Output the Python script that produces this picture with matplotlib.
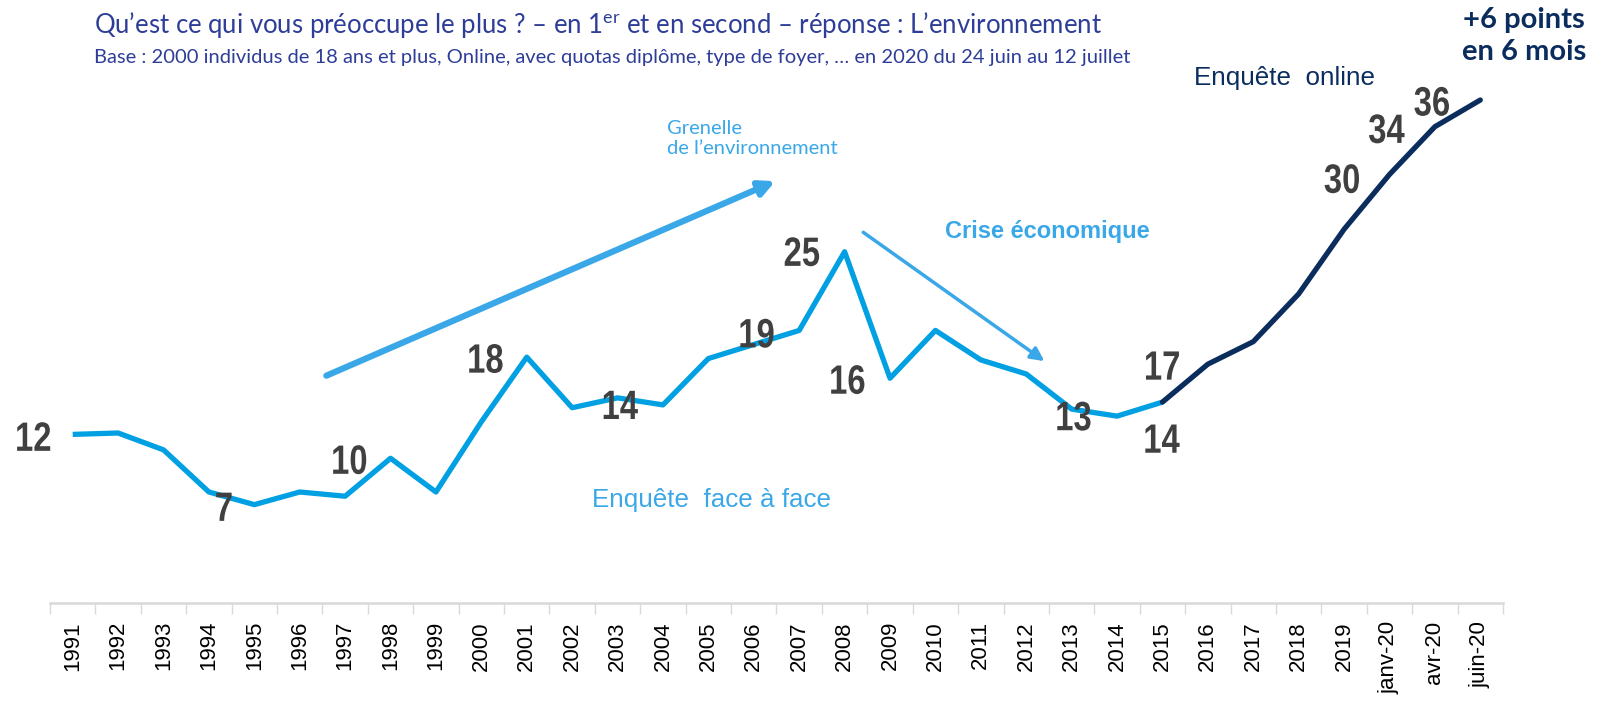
import matplotlib
matplotlib.use("Agg")
import matplotlib.pyplot as plt
from matplotlib.textpath import TextPath
from matplotlib.patches import PathPatch
from matplotlib.font_manager import FontProperties
import matplotlib.transforms as mtransforms

# categories on the x axis
periods = ["1991", "1992", "1993", "1994", "1995", "1996", "1997", "1998", "1999",
           "2000", "2001", "2002", "2003", "2004", "2005", "2006", "2007", "2008",
           "2009", "2010", "2011", "2012", "2013", "2014", "2015", "2016", "2017",
           "2018", "2019", "janv-20", "avr-20", "juin-20"]

# face-to-face survey 1991 -> 2015
face_values = [12, 12.1, 10.9, 7.9, 7.0, 7.9, 7.6, 10.3, 7.9, 12.9, 17.5, 13.9,
               14.6, 14.1, 17.4, 18.4, 19.4, 25, 16.0, 19.4, 17.3, 16.3, 13.8,
               13.3, 14.3]
# online survey 2015 -> juin-20
online_values = [14.3, 17.0, 18.6, 22.0, 26.6, 30.5, 33.9, 35.8]

# printed labels
label_texts = ["12", "7", "10", "18", "14", "19", "25", "16", "13", "17", "14", "30", "34", "36"]

BLUE = "#00A0E3"
ARROW = "#3AA8E8"
NAVY = "#0B2D5E"
GREY = "#404040"
TITLE = "#2E3D98"

plt.rcParams["mathtext.fontset"] = "custom"
plt.rcParams["mathtext.rm"] = "Lato"
plt.rcParams["mathtext.it"] = "Lato"

fig = plt.figure(figsize=(16.08, 7.02), dpi=100)
ax = fig.add_axes([50 / 1608, 99 / 702, 1453 / 1608, 562 / 702])

x_face = list(range(len(face_values)))
x_online = list(range(len(face_values) - 1, len(periods)))
ax.plot(x_face, face_values, color=BLUE, lw=3.8, solid_capstyle="butt", zorder=3)
ax.plot(x_online, online_values, color=NAVY, lw=3.8, solid_capstyle="round", zorder=3)

ax.set_xlim(-0.5, len(periods) - 0.5)
ax.set_ylim(0, 40)
for s in ["top", "right", "left"]:
    ax.spines[s].set_visible(False)
ax.spines["bottom"].set_color("#D9D9D9")
ax.spines["bottom"].set_linewidth(1.8)
ax.set_yticks([])
ax.set_xticks(range(len(periods)))
ax.set_xticklabels(periods, rotation=90, fontsize=16, family="Liberation Sans")
ax.set_xticks([i + 0.5 for i in range(-1, len(periods))], minor=True)
ax.tick_params(axis="x", which="major", length=0, pad=13)
ax.tick_params(axis="x", which="minor", length=8, color="#D9D9D9", width=1)

# value labels in a narrow bold face (condensed by hand, no Arial Narrow here)
label_x = [-0.86, 3.33, 6.1, 9.1, 12.07, 15.07, 16.06, 17.07, 22.05, 24.0, 24.0, 27.95, 28.94, 29.93]
label_y = [11.85, 6.85, 10.2, 17.4, 14.1, 19.2, 25.0, 15.9, 13.3, 16.9, 11.7, 30.2, 33.75, 35.7]
bold = FontProperties(family="Liberation Sans", weight="bold")
for t, lx, ly in zip(label_texts, label_x, label_y):
    tp = TextPath((0, 0), t, size=41, prop=bold)
    bb = tp.get_extents()
    px, py = ax.transData.transform((lx, ly))
    tr = (mtransforms.Affine2D()
          .translate(-(bb.x0 + bb.x1) / 2, -(bb.y0 + bb.y1) / 2)
          .scale(0.8, 1.0)
          .translate(px, py))
    fig.add_artist(PathPatch(tp, transform=tr, facecolor=GREY, edgecolor="none", zorder=4))

# trend arrows
ax.annotate("", xy=(15.53, 30.1), xytext=(5.53, 16.1),
            arrowprops=dict(arrowstyle="-|>,head_length=0.9,head_width=0.45", color=ARROW, lw=4.5))
ax.annotate("", xy=(21.45, 17.1), xytext=(17.36, 26.5),
            arrowprops=dict(arrowstyle="-|>,head_length=0.8,head_width=0.4", color=ARROW, lw=2.5))

ax.text(11.43, 7.35, "Enquête  face à face", color=ARROW, fontsize=18.7, family="Liberation Sans",
        ha="left", va="center")
ax.text(24.7, 37.35, "Enquête  online", color=NAVY, fontsize=18.7, family="Liberation Sans",
        ha="left", va="center")
ax.text(13.08, 33.07, "Grenelle\nde l’environnement", color=ARROW, fontsize=14.5, family="Lato",
        ha="left", va="center", linespacing=1.25)
ax.text(19.2, 26.45, "Crise économique", color=ARROW, fontsize=17, fontweight="bold",
        family="Liberation Sans", ha="left", va="center")

fig.text(94 / 1608, 1 - 25 / 702,
         "Qu’est ce qui vous préoccupe le plus ? – en 1$^{\\mathrm{er}}$ et en second – réponse : L’environnement",
         color=TITLE, fontsize=18.5, family="Lato", ha="left", va="center")
fig.text(94 / 1608, 1 - 57 / 702,
         "Base : 2000 individus de 18 ans et plus, Online, avec quotas diplôme, type de foyer, … en 2020 du 24 juin au 12 juillet",
         color=TITLE, fontsize=14.5, family="Lato", ha="left", va="center")
fig.text(1524 / 1608, 1 - 36 / 702, "+6 points\nen 6 mois", color=NAVY, fontsize=21,
         fontweight="bold", family="Lato", ha="center", va="center", linespacing=1.3)

fig.savefig("out.png", dpi=100)
